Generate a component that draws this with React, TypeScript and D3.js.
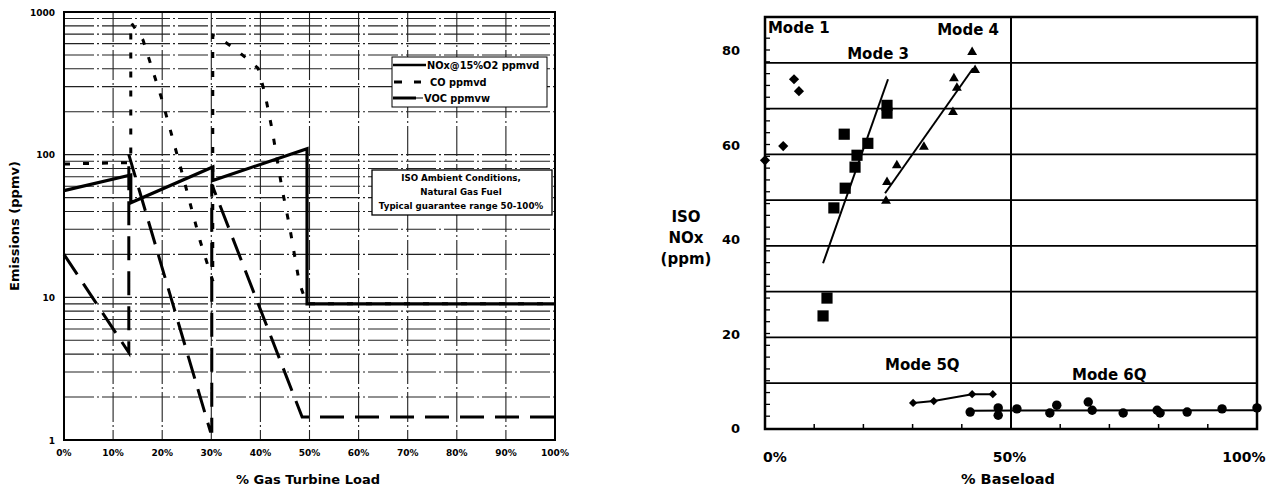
import React, { useEffect, useRef } from "react";
import * as d3 from "d3";

// ---- left panel: emissions vs % gas turbine load (log y) ----
const loadTicks = [0, 10, 20, 30, 40, 50, 60, 70, 80, 90, 100];
const ppmTicks = [1, 10, 100, 1000];

const noxLoad = [0, 13.6, 13.6, 30.3, 30.3, 49.5, 49.5, 100];
const noxPpm = [56, 72, 46, 82, 66, 110, 9, 9];

const coLoad = [0, 13.6, 13.6, 16.1, 19.8, 23.6, 27.7, 30.3, 30.3, 30.8, 35.4, 39.5, 40.9, 42.4, 44.4, 46.0, 47.9, 49.4, 100];
const coPpm = [86, 88, 850, 635, 253, 85, 25, 13, 689, 689, 532, 405, 270, 149, 58, 30.6, 12.8, 9, 9];

const vocLoad = [0, 13.2, 13.2, 29.8, 30.1, 30.1, 48.5, 100];
const vocPpm = [20, 4.1, 100, 1.15, 1.15, 62, 1.45, 1.45];

const legendNames = ["NOx@15%O2 ppmvd", "CO ppmvd", "VOC ppmvw"];
const noteLines = ["ISO Ambient Conditions,", "Natural Gas Fuel", "Typical guarantee range  50-100%"];

// ---- right panel: ISO NOx vs % baseload ----
const baseTicks = [0, 50, 100];
const noxTicks = [0, 20, 40, 60, 80];

const mode1Load = [0, 3.7, 5.9, 6.9];
const mode1Nox = [58.7, 61.8, 76.4, 73.8];

const mode3Load = [11.8, 12.6, 14.0, 16.1, 16.3, 18.3, 18.7, 20.9, 24.8, 24.8];
const mode3Nox = [24.7, 28.6, 48.3, 64.4, 52.6, 57.2, 59.8, 62.4, 70.7, 69.0];
const mode3FitLoad = [11.8, 25.0];
const mode3FitNox = [36.2, 76.4];

const mode4Load = [24.6, 24.8, 26.8, 32.3, 38.2, 38.4, 39.0, 42.7, 42.1];
const mode4Nox = [49.8, 53.9, 57.6, 61.6, 69.2, 76.6, 74.5, 78.4, 82.3];
const mode4FitLoad = [24.4, 42.3];
const mode4FitNox = [51.5, 78.8];

const mode5Load = [30.1, 34.3, 42.1, 46.3];
const mode5Nox = [5.7, 6.1, 7.6, 7.6];

const mode6Load = [41.7, 47.4, 47.4, 51.2, 57.9, 59.3, 65.7, 66.5, 72.8, 79.7, 80.3, 85.8, 92.9, 100];
const mode6Nox = [3.7, 3.0, 4.6, 4.4, 3.5, 5.2, 5.9, 4.1, 3.5, 4.1, 3.5, 3.7, 4.4, 4.6];
const mode6FitLoad = [41.7, 100];
const mode6FitNox = [4.0, 4.1];

const FONT = "'DejaVu Sans', sans-serif";

function zip(a: number[], b: number[]): [number, number][] {
  return a.map((v, i) => [v, b[i]]);
}

function drawLeft(svg: any) {
  const x = d3.scaleLinear().domain([0, 100]).range([64, 555]);
  const y = d3.scaleLog().domain([1, 1000]).range([440, 12]);
  const g = svg.append("g");

  // log gridlines (scanned dash-dot look)
  const grid = y.ticks().filter((t: number) => t > 1 && t < 1000);
  g.selectAll(".hg").data(grid).enter().append("line")
    .attr("x1", x(0)).attr("x2", x(100))
    .attr("y1", (d: number) => y(d)).attr("y2", (d: number) => y(d))
    .attr("stroke", "#222").attr("stroke-width", 1.1)
    .attr("stroke-dasharray", "30,3,2,3");
  g.selectAll(".vg").data(loadTicks.slice(1, -1)).enter().append("line")
    .attr("x1", (d: number) => x(d)).attr("x2", (d: number) => x(d))
    .attr("y1", y(1000)).attr("y2", y(1))
    .attr("stroke", "#222").attr("stroke-width", 1.1)
    .attr("stroke-dasharray", "30,3,2,3");

  g.append("rect")
    .attr("x", x(0)).attr("y", y(1000))
    .attr("width", x(100) - x(0)).attr("height", y(1) - y(1000))
    .attr("fill", "none").attr("stroke", "#000").attr("stroke-width", 2);

  const line = d3.line<[number, number]>().x((d) => x(d[0])).y((d) => y(d[1]));

  g.append("path").attr("d", line(zip(vocLoad, vocPpm)))
    .attr("fill", "none").attr("stroke", "#000").attr("stroke-width", 3)
    .attr("stroke-dasharray", "24,11");
  g.append("path").attr("d", line(zip(coLoad, coPpm)))
    .attr("fill", "none").attr("stroke", "#000").attr("stroke-width", 3)
    .attr("stroke-dasharray", "6,13");
  g.append("path").attr("d", line(zip(noxLoad, noxPpm)))
    .attr("fill", "none").attr("stroke", "#000").attr("stroke-width", 3.2)
    .attr("stroke-linejoin", "miter");

  // tick labels
  g.selectAll(".yl").data(ppmTicks).enter().append("text")
    .attr("x", 55).attr("y", (d: number) => y(d) + 3.5)
    .attr("text-anchor", "end")
    .style("font", `bold 9px ${FONT}`)
    .text((d: number) => d);
  g.selectAll(".xl").data(loadTicks).enter().append("text")
    .attr("x", (d: number) => x(d)).attr("y", 456)
    .attr("text-anchor", "middle")
    .style("font", `bold 9px ${FONT}`)
    .text((d: number) => d + "%");

  g.append("text").attr("x", 308).attr("y", 484)
    .attr("text-anchor", "middle")
    .style("font", `bold 13px ${FONT}`)
    .text("% Gas Turbine Load");
  g.append("text").attr("transform", "translate(19,226) rotate(-90)")
    .attr("text-anchor", "middle")
    .style("font", `bold 13px ${FONT}`)
    .text("Emissions (ppmv)");

  // legend
  const leg = g.append("g");
  leg.append("rect").attr("x", 392).attr("y", 57).attr("width", 155).attr("height", 50)
    .attr("fill", "#fff").attr("stroke", "#000").attr("stroke-width", 1);
  leg.append("line").attr("x1", 393).attr("x2", 426).attr("y1", 65).attr("y2", 65)
    .attr("stroke", "#000").attr("stroke-width", 2.5);
  leg.append("line").attr("x1", 394).attr("x2", 421).attr("y1", 82).attr("y2", 82)
    .attr("stroke", "#000").attr("stroke-width", 3).attr("stroke-dasharray", "8,12");
  leg.append("line").attr("x1", 393).attr("x2", 416).attr("y1", 98).attr("y2", 98)
    .attr("stroke", "#000").attr("stroke-width", 3);
  leg.append("line").attr("x1", 416).attr("x2", 423).attr("y1", 98).attr("y2", 98)
    .attr("stroke", "#000").attr("stroke-width", 1);
  leg.selectAll(".lt").data(legendNames).enter().append("text")
    .attr("x", (d: string, i: number) => [427, 430, 424][i])
    .attr("y", (d: string, i: number) => [68.5, 85.5, 101.5][i])
    .style("font", `bold 9.8px ${FONT}`)
    .text((d: string) => d);

  // conditions note
  const note = g.append("g");
  note.append("rect").attr("x", 372).attr("y", 170).attr("width", 180).attr("height", 45)
    .attr("fill", "#fff").attr("stroke", "#000").attr("stroke-width", 1.3);
  note.selectAll("text").data(noteLines).enter().append("text")
    .attr("x", 461).attr("y", (d: string, i: number) => 181 + i * 14)
    .attr("text-anchor", "middle")
    .style("font", `bold 8.7px ${FONT}`)
    .text((d: string) => d);
}

function drawRight(svg: any) {
  const x = d3.scaleLinear().domain([0, 100]).range([765, 1257]);
  const y = d3.scaleLinear().domain([0, 90]).range([429, 17]);
  // the printed axis labels sit on a slightly different scale than the grid
  const yLab = d3.scaleLinear().domain([0, 80]).range([428, 50]);
  const xLab = d3.scaleLinear().domain([0, 100]).range([775, 1244]);
  const g = svg.append("g");

  g.selectAll(".hg").data(d3.range(10, 90, 10)).enter().append("line")
    .attr("x1", x(0)).attr("x2", x(100))
    .attr("y1", (d: number) => y(d)).attr("y2", (d: number) => y(d))
    .attr("stroke", "#000").attr("stroke-width", 1.8);
  g.append("line").attr("x1", x(50)).attr("x2", x(50)).attr("y1", y(90)).attr("y2", y(0))
    .attr("stroke", "#000").attr("stroke-width", 2);
  g.append("rect").attr("x", x(0)).attr("y", y(90))
    .attr("width", x(100) - x(0)).attr("height", y(0) - y(90))
    .attr("fill", "none").attr("stroke", "#000").attr("stroke-width", 2.5);

  // minor ticks
  g.selectAll(".xt").data(d3.range(10, 100, 10).filter((d) => d !== 50)).enter().append("line")
    .attr("x1", (d: number) => x(d)).attr("x2", (d: number) => x(d))
    .attr("y1", y(0)).attr("y2", y(0) - 5)
    .attr("stroke", "#000").attr("stroke-width", 1.5);
  g.selectAll(".yt").data(d3.range(2.5, 85, 2.5)).enter().append("line")
    .attr("x1", x(0)).attr("x2", x(0) + 5)
    .attr("y1", (d: number) => yLab(d)).attr("y2", (d: number) => yLab(d))
    .attr("stroke", "#000").attr("stroke-width", 1.3);

  const line = d3.line<[number, number]>().x((d) => x(d[0])).y((d) => y(d[1]));
  const thin = (a: number[], b: number[]) =>
    g.append("path").attr("d", line(zip(a, b)))
      .attr("fill", "none").attr("stroke", "#000").attr("stroke-width", 2);
  thin(mode3FitLoad, mode3FitNox);
  thin(mode4FitLoad, mode4FitNox);
  thin(mode5Load, mode5Nox);
  thin(mode6FitLoad, mode6FitNox);

  const marks = (a: number[], b: number[], type: any, size: number, rot: number) =>
    g.selectAll(null).data(zip(a, b)).enter().append("path")
      .attr("d", d3.symbol().type(type).size(size)())
      .attr("transform", (d: [number, number]) => `translate(${x(d[0])},${y(d[1])}) rotate(${rot})`)
      .attr("fill", "#000");
  marks(mode1Load, mode1Nox, d3.symbolSquare, 52, 45);
  marks(mode3Load, mode3Nox, d3.symbolSquare, 125, 0);
  marks(mode4Load, mode4Nox, d3.symbolTriangle, 42, 0);
  marks(mode5Load, mode5Nox, d3.symbolSquare, 34, 45);
  marks(mode6Load, mode6Nox, d3.symbolCircle, 70, 0);

  // labels
  g.selectAll(".yl").data(noxTicks).enter().append("text")
    .attr("x", 740).attr("y", (d: number) => yLab(d) + 5)
    .attr("text-anchor", "end")
    .style("font", `bold 13px ${FONT}`)
    .text((d: number) => d);
  g.selectAll(".xl").data(baseTicks).enter().append("text")
    .attr("x", (d: number) => xLab(d)).attr("y", 462)
    .attr("text-anchor", "middle")
    .style("font", `bold 14px ${FONT}`)
    .text((d: number) => d + "%");
  g.append("text").attr("x", 1008).attr("y", 484)
    .attr("text-anchor", "middle")
    .style("font", `bold 14.5px ${FONT}`)
    .text("% Baseload");
  g.selectAll(".yt2").data(["ISO", "NOx", "(ppm)"]).enter().append("text")
    .attr("x", 686).attr("y", (d: string, i: number) => 222 + i * 21)
    .attr("text-anchor", "middle")
    .style("font", `bold 15px ${FONT}`)
    .text((d: string) => d);

  const modes = [
    { t: "Mode 1", load: 0.6, nox: 86.5 },
    { t: "Mode 3", load: 16.7, nox: 80.8 },
    { t: "Mode 4", load: 35.0, nox: 86.0 },
    { t: "Mode 5Q", load: 24.4, nox: 12.8 },
    { t: "Mode 6Q", load: 62.4, nox: 10.7 },
  ];
  g.selectAll(".ml").data(modes).enter().append("text")
    .attr("x", (d: any) => x(d.load)).attr("y", (d: any) => y(d.nox))
    .style("font", `bold 15px ${FONT}`)
    .text((d: any) => d.t);
}

export default function App() {
  const ref = useRef<SVGSVGElement>(null);

  useEffect(() => {
    const svg = d3.select(ref.current);
    svg.selectAll("*").remove();
    drawLeft(svg);
    drawRight(svg);
  }, []);

  return (
    <svg
      ref={ref}
      width={1270}
      height={490}
      style={{ position: "absolute", left: 0, top: 0, background: "#fff" }}
    />
  );
}
